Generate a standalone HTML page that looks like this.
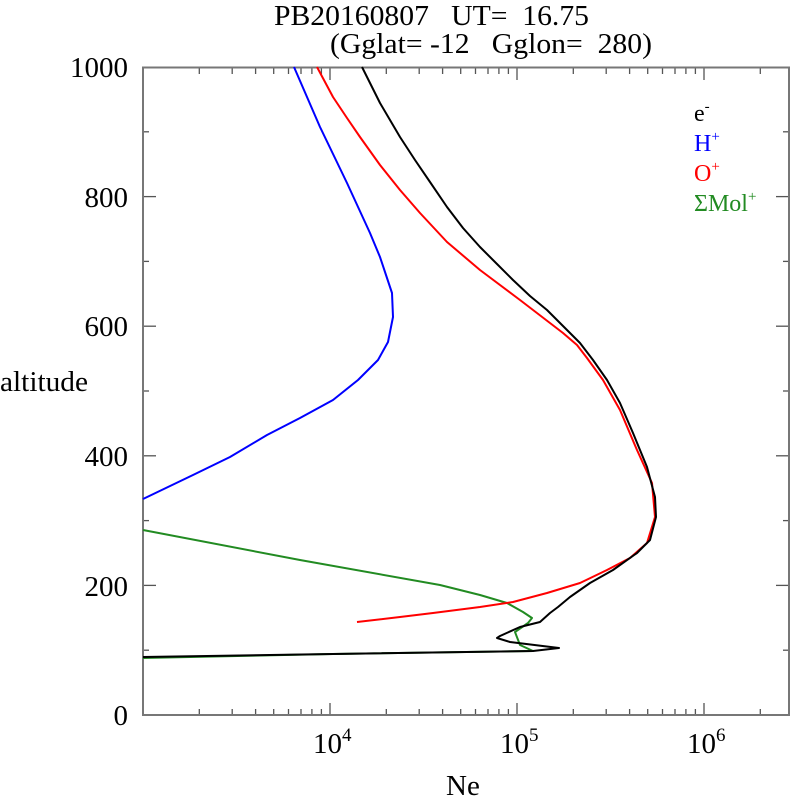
<!DOCTYPE html>
<html><head><style>html,body{margin:0;padding:0;background:#fff}svg{display:block}text{font-family:"Liberation Serif",serif}</style></head><body>
<svg width="792" height="796" xmlns="http://www.w3.org/2000/svg">
<defs>
<clipPath id="cp"><rect x="143" y="60" width="646" height="660"/></clipPath>
<g id="dec" stroke="#555" stroke-width="1.3">
<line x1="0" y1="715" x2="0" y2="703"/><line x1="0" y1="68" x2="0" y2="80"/>
<line x1="56.3" y1="715" x2="56.3" y2="709"/><line x1="56.3" y1="68" x2="56.3" y2="74"/>
<line x1="89.2" y1="715" x2="89.2" y2="709"/><line x1="89.2" y1="68" x2="89.2" y2="74"/>
<line x1="112.6" y1="715" x2="112.6" y2="709"/><line x1="112.6" y1="68" x2="112.6" y2="74"/>
<line x1="130.7" y1="715" x2="130.7" y2="709"/><line x1="130.7" y1="68" x2="130.7" y2="74"/>
<line x1="145.5" y1="715" x2="145.5" y2="709"/><line x1="145.5" y1="68" x2="145.5" y2="74"/>
<line x1="158" y1="715" x2="158" y2="709"/><line x1="158" y1="68" x2="158" y2="74"/>
<line x1="168.9" y1="715" x2="168.9" y2="709"/><line x1="168.9" y1="68" x2="168.9" y2="74"/>
<line x1="178.4" y1="715" x2="178.4" y2="709"/><line x1="178.4" y1="68" x2="178.4" y2="74"/>
</g>
</defs>
<text x="274" y="25" font-size="29" textLength="315" lengthAdjust="spacingAndGlyphs" xml:space="preserve">PB20160807   UT=  16.75</text>
<text x="330" y="53" font-size="29" textLength="322" lengthAdjust="spacingAndGlyphs" xml:space="preserve">(Gglat= -12   Gglon=  280)</text>
<g clip-path="url(#cp)">
<use href="#dec" x="143"/><use href="#dec" x="330"/><use href="#dec" x="517"/><use href="#dec" x="704"/>
</g>
<g stroke="#555" stroke-width="1.3">
<line x1="143" y1="650.2" x2="149" y2="650.2"/><line x1="789" y1="650.2" x2="783" y2="650.2"/>
<line x1="143" y1="585.4" x2="156" y2="585.4"/><line x1="789" y1="585.4" x2="776" y2="585.4"/>
<line x1="143" y1="520.6" x2="149" y2="520.6"/><line x1="789" y1="520.6" x2="783" y2="520.6"/>
<line x1="143" y1="455.8" x2="156" y2="455.8"/><line x1="789" y1="455.8" x2="776" y2="455.8"/>
<line x1="143" y1="391" x2="149" y2="391"/><line x1="789" y1="391" x2="783" y2="391"/>
<line x1="143" y1="326.2" x2="156" y2="326.2"/><line x1="789" y1="326.2" x2="776" y2="326.2"/>
<line x1="143" y1="261.4" x2="149" y2="261.4"/><line x1="789" y1="261.4" x2="783" y2="261.4"/>
<line x1="143" y1="196.6" x2="156" y2="196.6"/><line x1="789" y1="196.6" x2="776" y2="196.6"/>
<line x1="143" y1="131.8" x2="149" y2="131.8"/><line x1="789" y1="131.8" x2="783" y2="131.8"/>
</g>
<rect x="143" y="67.5" width="646" height="647.5" fill="none" stroke="#777" stroke-width="2"/>
<g font-size="29" text-anchor="end">
<text x="128" y="77">1000</text><text x="128" y="207">800</text><text x="128" y="336">600</text><text x="128" y="466">400</text><text x="128" y="596">200</text><text x="128" y="725">0</text>
</g>
<text x="0" y="391" font-size="29" textLength="88" lengthAdjust="spacingAndGlyphs">altitude</text>
<g font-size="29"><text x="313" y="753">10<tspan font-size="19" dy="-12">4</tspan></text><text x="500" y="753">10<tspan font-size="19" dy="-12">5</tspan></text><text x="687" y="753">10<tspan font-size="19" dy="-12">6</tspan></text></g>
<text x="446" y="795" font-size="29">Ne</text>
<g font-size="24">
<text x="694" y="121" fill="#000">e<tspan font-size="15" dy="-10">-</tspan></text>
<text x="694" y="151" fill="#00f">H<tspan font-size="15" dy="-10">+</tspan></text>
<text x="694" y="181" fill="#f00">O<tspan font-size="15" dy="-10">+</tspan></text>
<text x="694" y="211" fill="#228b22">ΣMol<tspan font-size="15" dy="-10">+</tspan></text>
</g>
<g fill="none" stroke-width="2" stroke-linejoin="round">
<polyline stroke="#00f" points="294,67 320,127 347,183 370,233 380,257 386,275 392,293 393,317 388,342 378,360 358,380 333,400 300,418 267,435 230,457 193,475 143,499"/>
<polyline stroke="#228b22" points="143,530 300,560 440,585 480,595 507,603 523,612 532,618 528,623 515,632 520,645 533,651 333,654 143,658"/>
<polyline stroke="#f00" points="317,67 333,97 347,118 360,137 380,165 400,190 420,213 447,242 480,270 520,300 563,333 577,345 587,358 603,380 620,410 637,450 652,483 655,517 647,543 630,558 607,570 580,583 547,593 513,602 480,607 433,613 400,617 357,622"/>
<polyline stroke="#000" points="362,67 380,103 400,137 415,160 430,182 447,207 463,228 480,247 497,264 513,280 530,296 547,310 563,326 580,343 593,360 607,380 620,403 633,433 647,467 655,497 656,517 650,540 637,553 613,570 590,583 570,597 558,607 550,613 540,622 520,627 500,636 497,638 510,642 559,648 533,651 333,654 143,657"/>
</g>
</svg>
</body></html>
